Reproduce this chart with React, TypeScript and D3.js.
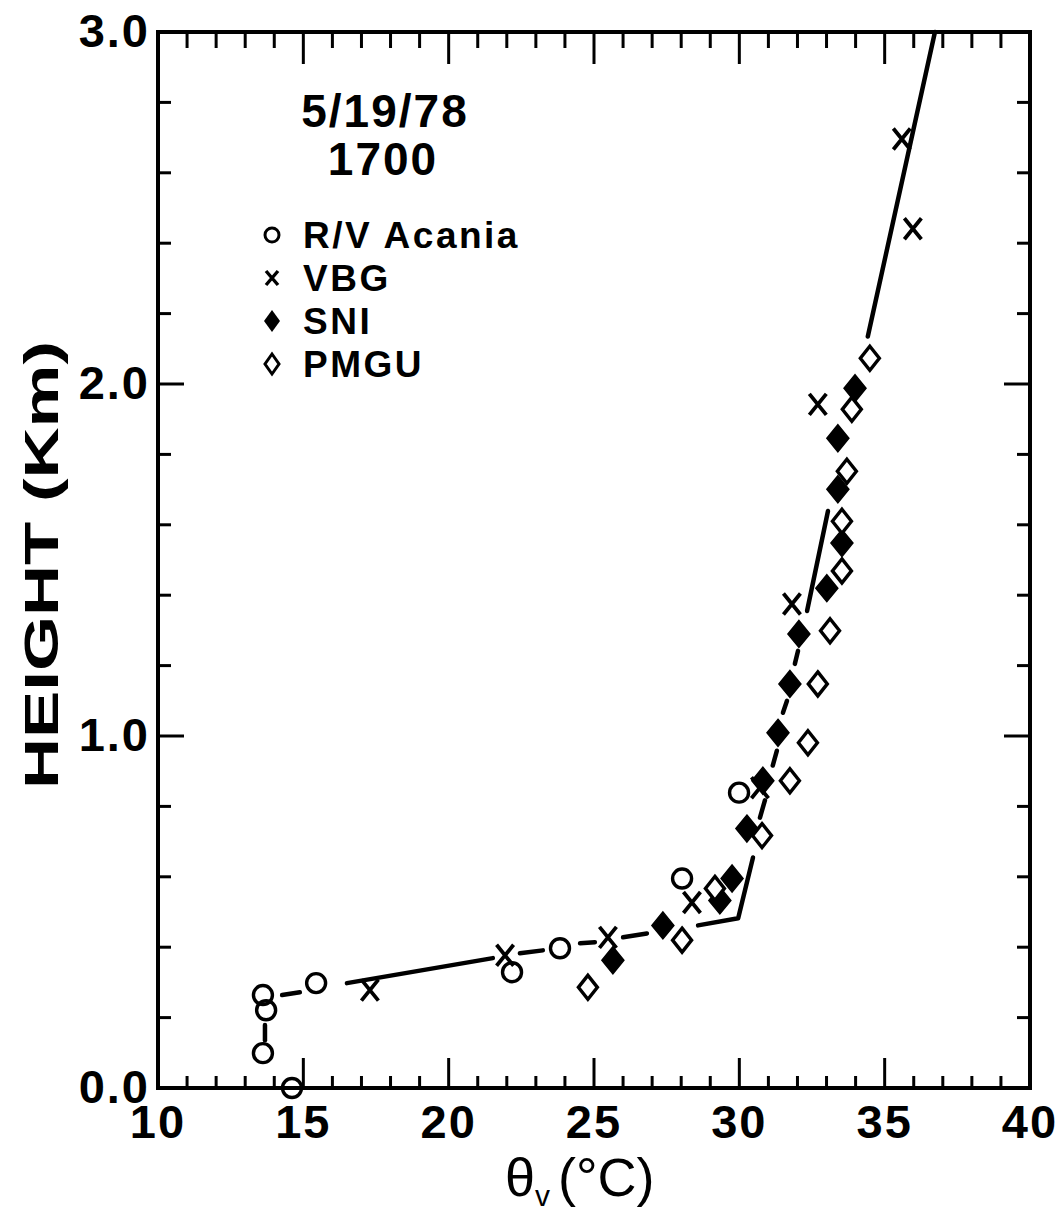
import React from "react";
import * as d3 from "d3";

// ---- data (theta_v in °C, height in km) ----
const acaniaX = [13.61, 13.72, 13.61, 14.61, 15.44, 22.18, 23.83, 28.03, 29.99];
const acaniaY = [0.099, 0.221, 0.264, 0.0, 0.298, 0.329, 0.397, 0.595, 0.839];

const vbgX = [17.29, 21.94, 25.48, 28.37, 30.71, 31.81, 32.7, 35.59, 35.97];
const vbgY = [0.278, 0.377, 0.428, 0.527, 0.853, 1.375, 1.942, 2.696, 2.441];

const sniX = [25.65, 27.37, 29.33, 29.75, 30.26, 30.81, 31.33, 31.74, 32.05, 33.01, 33.53, 33.39, 33.39, 33.98];
const sniY = [0.363, 0.462, 0.533, 0.595, 0.737, 0.873, 1.009, 1.148, 1.29, 1.42, 1.548, 1.701, 1.846, 1.988];

const pmguX = [24.79, 28.03, 29.16, 30.78, 31.74, 32.36, 32.7, 33.12, 33.53, 33.53, 33.7, 33.87, 34.49];
const pmguY = [0.286, 0.42, 0.567, 0.717, 0.873, 0.981, 1.148, 1.299, 1.469, 1.61, 1.752, 1.928, 2.073];

// fitted profile, drawn as broken pieces (x list, y list)
const fitPiecesX = [
  [13.68, 13.68],
  [14.27, 14.88],
  [16.5, 21.52],
  [22.45, 23.24],
  [24.52, 25.03],
  [26.0, 26.82],
  [28.58, 29.96, 30.47],
  [30.71, 30.88],
  [31.15, 31.29],
  [31.5, 31.64],
  [31.91, 32.02],
  [32.33, 33.05],
  [34.42, 36.73],
];
const fitPiecesY = [
  [0.136, 0.179],
  [0.264, 0.272],
  [0.298, 0.369],
  [0.383, 0.391],
  [0.411, 0.414],
  [0.428, 0.439],
  [0.462, 0.482, 0.655],
  [0.768, 0.817],
  [0.916, 0.958],
  [1.066, 1.1],
  [1.205, 1.242],
  [1.355, 1.639],
  [2.135, 3.0],
];

const xTickLabels = [10, 15, 20, 25, 30, 35, 40];
const yTickLabels = ["0.0", "1.0", "2.0", "3.0"];
const legendNames = ["R/V Acania", "VBG", "SNI", "PMGU"];
const titleLines = ["5/19/78", "1700"];

const FONT = "'Liberation Sans', Arial, Helvetica, sans-serif";

function Marker({ kind, x, y }: { kind: string; x: number; y: number }) {
  if (kind === "circle")
    return <circle cx={x} cy={y} r={9.5} fill="none" stroke="#000" strokeWidth={3.4} />;
  if (kind === "x")
    return (
      <path
        d={`M${x - 8.5},${y - 10.5}L${x + 8.5},${y + 10.5}M${x + 8.5},${y - 10.5}L${x - 8.5},${y + 10.5}`}
        stroke="#000"
        strokeWidth={3.8}
        fill="none"
      />
    );
  const w = 11,
    h = 13.5;
  const d = `M${x},${y - h}L${x + w},${y}L${x},${y + h}L${x - w},${y}Z`;
  if (kind === "fdiamond") return <path d={d} fill="#000" stroke="#000" strokeWidth={1.5} />;
  const w2 = 9.5,
    h2 = 12;
  const d2 = `M${x},${y - h2}L${x + w2},${y}L${x},${y + h2}L${x - w2},${y}Z`;
  return <path d={d2} fill="#fff" stroke="#000" strokeWidth={3.4} strokeLinejoin="miter" />;
}

export default function App() {
  const W = 1062,
    H = 1218;
  const x = d3.scaleLinear().domain([10, 40]).range([158, 1030]);
  const y = d3.scaleLinear().domain([0, 3]).range([1088, 32]);
  const line = d3
    .line<[number, number]>()
    .x((d) => x(d[0]))
    .y((d) => y(d[1]));

  const xMinor = d3.range(10, 41, 1);
  const yMinor = d3.range(0, 3.0001, 0.2).map((v) => +v.toFixed(1));

  const series = [
    { kind: "circle", xs: acaniaX, ys: acaniaY },
    { kind: "x", xs: vbgX, ys: vbgY },
    { kind: "fdiamond", xs: sniX, ys: sniY },
    { kind: "odiamond", xs: pmguX, ys: pmguY },
  ];

  const [x0, x1] = x.range();
  const [y0, y1] = y.range();

  return (
    <svg
      width={W}
      height={H}
      style={{ display: "block", background: "#fff", position: "absolute", left: 0, top: 0 }}
      fontFamily={FONT}
    >
      <rect width={W} height={H} fill="#fff" />
      {/* frame */}
      <rect x={x0} y={y1} width={x1 - x0} height={y0 - y1} fill="none" stroke="#000" strokeWidth={4} />
      {/* x ticks bottom & top */}
      {xMinor.map((v) => {
        const major = v % 5 === 0;
        if (v === 10 || v === 40) return null;
        return (
          <g key={"xt" + v} stroke="#000" strokeWidth={3}>
            <line x1={x(v)} x2={x(v)} y1={y0} y2={y0 - (major ? 30 : 12)} />
            <line x1={x(v)} x2={x(v)} y1={y1} y2={y1 + (major ? 32 : 16)} />
          </g>
        );
      })}
      {/* y ticks left & right */}
      {yMinor.map((v) => {
        if (v === 0 || v === 3) return null;
        const major = Math.abs(v - Math.round(v)) < 1e-6;
        const len = major ? 26 : 13;
        return (
          <g key={"yt" + v} stroke="#000" strokeWidth={3}>
            <line x1={x0} x2={x0 + len} y1={y(v)} y2={y(v)} />
            <line x1={x1} x2={x1 - len} y1={y(v)} y2={y(v)} />
          </g>
        );
      })}
      {/* tick labels */}
      {xTickLabels.map((v) => (
        <text
          key={"xl" + v}
          x={x(v)}
          y={y0 + 50}
          textAnchor="middle"
          fontSize={47}
          fontWeight="bold"
          letterSpacing={2}
        >
          {v}
        </text>
      ))}
      {yTickLabels.map((t) => (
        <text
          key={"yl" + t}
          x={x0 - 8}
          y={y(+t) + 15}
          textAnchor="end"
          fontSize={47}
          fontWeight="bold"
          letterSpacing={2}
        >
          {t}
        </text>
      ))}
      {/* axis titles */}
      <text
        transform={`translate(58,${565}) rotate(-90)`}
        textAnchor="middle"
        fontSize={48}
        fontWeight="bold"
        textLength={448}
        lengthAdjust="spacingAndGlyphs"
      >
        HEIGHT (Km)
      </text>
      <text x={505} y={1196} fontSize={54}>
        <tspan>θ</tspan>
        <tspan fontSize={30} dy={10}>v</tspan>
        <tspan dy={-10} dx={8}>(°C)</tspan>
      </text>
      {/* date/time */}
      <text x={385} y={127} textAnchor="middle" fontSize={46} fontWeight="bold" letterSpacing={2}>
        {titleLines[0]}
      </text>
      <text x={383} y={175} textAnchor="middle" fontSize={46} fontWeight="bold" letterSpacing={2}>
        {titleLines[1]}
      </text>
      {/* legend */}
      {legendNames.map((name, i) => {
        const ly = 235 + i * 43;
        const kinds = ["circle", "x", "fdiamond", "odiamond"];
        const k = kinds[i];
        return (
          <g key={name}>
            {k === "circle" && <circle cx={272} cy={ly} r={7} fill="none" stroke="#000" strokeWidth={3} />}
            {k === "x" && (
              <path
                d={`M${266},${ly - 7}L${278},${ly + 7}M${278},${ly - 7}L${266},${ly + 7}`}
                stroke="#000"
                strokeWidth={3.4}
              />
            )}
            {k === "fdiamond" && (
              <path d={`M272,${ly - 11}L280,${ly}L272,${ly + 11}L264,${ly}Z`} fill="#000" />
            )}
            {k === "odiamond" && (
              <path
                d={`M272,${ly - 10}L279,${ly}L272,${ly + 10}L265,${ly}Z`}
                fill="#fff"
                stroke="#000"
                strokeWidth={3}
              />
            )}
            <text x={303} y={ly + 13} fontSize={37} fontWeight="bold" letterSpacing={2.5}>
              {name}
            </text>
          </g>
        );
      })}
      {/* fitted profile pieces */}
      {fitPiecesX.map((xs, i) => (
        <path
          key={"fit" + i}
          d={line(xs.map((v, j) => [v, fitPiecesY[i][j]] as [number, number])) || ""}
          fill="none"
          stroke="#000"
          strokeWidth={4.5}
          strokeLinecap="round"
          strokeLinejoin="round"
        />
      ))}
      {/* markers */}
      {series.map((s) =>
        s.xs.map((v, i) => <Marker key={s.kind + i} kind={s.kind} x={x(v)} y={y(s.ys[i])} />)
      )}
    </svg>
  );
}
